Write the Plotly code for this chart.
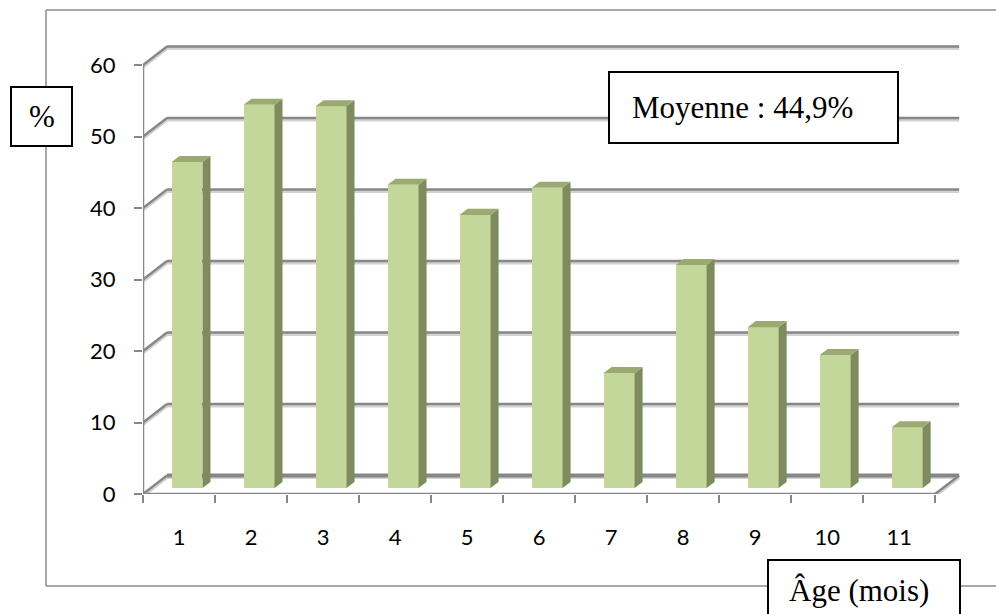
import plotly.graph_objects as go

# ---- data ----
categories = ["1", "2", "3", "4", "5", "6", "7", "8", "9", "10", "11"]
values = [45.6, 53.6, 53.4, 42.4, 38.2, 42.0, 16.1, 31.2, 22.5, 18.6, 8.5]
y_ticks = [0, 10, 20, 30, 40, 50, 60]
mean_label = "Moyenne : 44,9%"
y_title = "%"
x_title = "Âge (mois)"

# ---- geometry / styles ----
W, H = 996, 614
ML, MR, MT, MB = 143, 32, 40, 120
X0, X1 = 0.5, 11.9
Y0, Y1 = 0.0, 63.5
PW = W - ML - MR
PH = H - MT - MB

DXB, DYB = 0.333, 2.6      # back wall offset (data units)
FX, FY = 0.111, 0.84       # bar front-face depth offset
BW = 0.43                  # bar width
SDX, SDY = 0.111, 0.84     # bar depth

FRONT = "#C4D79B"
SIDE = "#7D8B5D"
TOP = "#9AAA72"
GRID = "#878787"
SHADOW = "#D2D2D2"


def px(p):
    return (p - ML) / PW


def py(p):
    return (H - MB - p) / PH


xs = [i + 1 for i in range(len(categories))]

fig = go.Figure()

# front faces
fig.add_trace(go.Bar(
    x=[x + FX for x in xs], y=values, base=[FY] * len(values), width=BW,
    marker=dict(color=FRONT, line=dict(width=0)), hoverinfo="skip", showlegend=False,
))

# side faces and top faces
sx, sy, tx, ty = [], [], [], []
for x, v in zip(xs, values):
    xl = x + FX - BW / 2
    xr = x + FX + BW / 2
    top = FY + v
    sx += [xr, xr + SDX, xr + SDX, xr, xr, None]
    sy += [FY, FY + SDY, top + SDY, top, FY, None]
    tx += [xl, xl + SDX, xr + SDX, xr, xl, None]
    ty += [top, top + SDY, top + SDY, top, top, None]
fig.add_trace(go.Scatter(x=sx, y=sy, mode="lines", fill="toself", fillcolor=SIDE,
                         line=dict(width=0, color=SIDE), hoverinfo="skip", showlegend=False))
fig.add_trace(go.Scatter(x=tx, y=ty, mode="lines", fill="toself", fillcolor=TOP,
                         line=dict(width=0, color=TOP), hoverinfo="skip", showlegend=False))

# dummy trace for tick axis
fig.add_trace(go.Scatter(x=[X0], y=[Y0], xaxis="x2", mode="markers",
                         marker=dict(opacity=0), hoverinfo="skip", showlegend=False))

shapes = []


def seg(x0, y0, x1, y1, color, width, ref="x"):
    shapes.append(dict(type="line", xref=ref, yref="y" if ref == "x" else "paper",
                       x0=x0, y0=y0, x1=x1, y1=y1, layer="below",
                       line=dict(color=color, width=width)))


# gridlines on back wall + side wall diagonals
sh = 0.3
for k in y_ticks:
    w = 4 if k == 0 else 2.5
    seg(X0 + DXB, k + DYB - sh, 11.5 + DXB, k + DYB - sh, SHADOW, 3)
    seg(X0, k - sh, X0 + DXB, k + DYB - sh, SHADOW, 3)
    seg(X0 + DXB, k + DYB, 11.5 + DXB, k + DYB, GRID, w)
    seg(X0, k, X0 + DXB, k + DYB, GRID, 2.5)
# floor right edge and front edge
seg(11.5, -sh, 11.5 + DXB, DYB - sh, SHADOW, 3)
seg(11.5, 0, 11.5 + DXB, DYB, GRID, 2.5)
seg(X0, -sh, 11.5, -sh, SHADOW, 3)
seg(X0, 0, 11.5, 0, GRID, 2.5)
# vertical axis line
seg(X0, 0, X0, 60, GRID, 2.5)

# outer chart border (paper coords)
border = "#8B8B8B"
shapes.append(dict(type="line", xref="paper", yref="paper", x0=px(46), y0=py(10), x1=px(1000), y1=py(10),
                   line=dict(color=border, width=1.5), layer="below"))
shapes.append(dict(type="line", xref="paper", yref="paper", x0=px(46), y0=py(10), x1=px(46), y1=py(586),
                   line=dict(color=border, width=1.5), layer="below"))
shapes.append(dict(type="line", xref="paper", yref="paper", x0=px(46), y0=py(586), x1=px(1000), y1=py(586),
                   line=dict(color=border, width=1.5), layer="below"))

# text boxes
for (a, b, c, d) in [(11, 87, 72, 146), (609, 72, 898, 143), (768, 560, 960, 640)]:
    shapes.append(dict(type="rect", xref="paper", yref="paper", x0=px(a), y0=py(b), x1=px(c), y1=py(d),
                       line=dict(color="black", width=2), fillcolor="white", layer="above"))

serif = dict(family="Liberation Serif, Times New Roman, serif", size=31, color="black")
annotations = [
    dict(text=y_title, xref="paper", yref="paper", x=px(41.5), y=py(116.5), showarrow=False,
         font=serif, xanchor="center", yanchor="middle"),
    dict(text=mean_label, xref="paper", yref="paper", x=px(630), y=py(107), showarrow=False,
         font=serif, xanchor="left", yanchor="middle"),
    dict(text=x_title, xref="paper", yref="paper", x=px(787), y=py(590), showarrow=False,
         font=serif, xanchor="left", yanchor="middle"),
]

tickfont = dict(family="Lato, Calibri, sans-serif", size=22, color="black")

fig.update_layout(
    width=W, height=H,
    margin=dict(l=ML, r=MR, t=MT, b=MB, pad=0),
    paper_bgcolor="white", plot_bgcolor="white",
    bargap=0,
    shapes=shapes, annotations=annotations,
    xaxis=dict(range=[X0, X1], tickmode="array", tickvals=xs, ticktext=categories,
               ticks="", showgrid=False, zeroline=False, showline=False,
               tickfont=tickfont, ticklabelstandoff=28, fixedrange=True),
    xaxis2=dict(range=[X0, X1], overlaying="x", anchor="y", side="bottom",
                tickmode="array", tickvals=[i + 0.5 for i in range(12)],
                ticks="outside", ticklen=8, tickwidth=2, tickcolor=GRID,
                showticklabels=False, showgrid=False, zeroline=False, showline=False),
    yaxis=dict(range=[Y0, Y1], tickmode="array", tickvals=y_ticks,
               ticks="outside", ticklen=8, tickwidth=2, tickcolor=GRID,
               showgrid=False, zeroline=False, showline=False,
               tickfont=tickfont, ticklabelstandoff=14, fixedrange=True),
)

fig.write_html("out.html", config={"displayModeBar": False},
               post_script="document.body.style.margin='0';document.body.style.overflow='hidden';")
